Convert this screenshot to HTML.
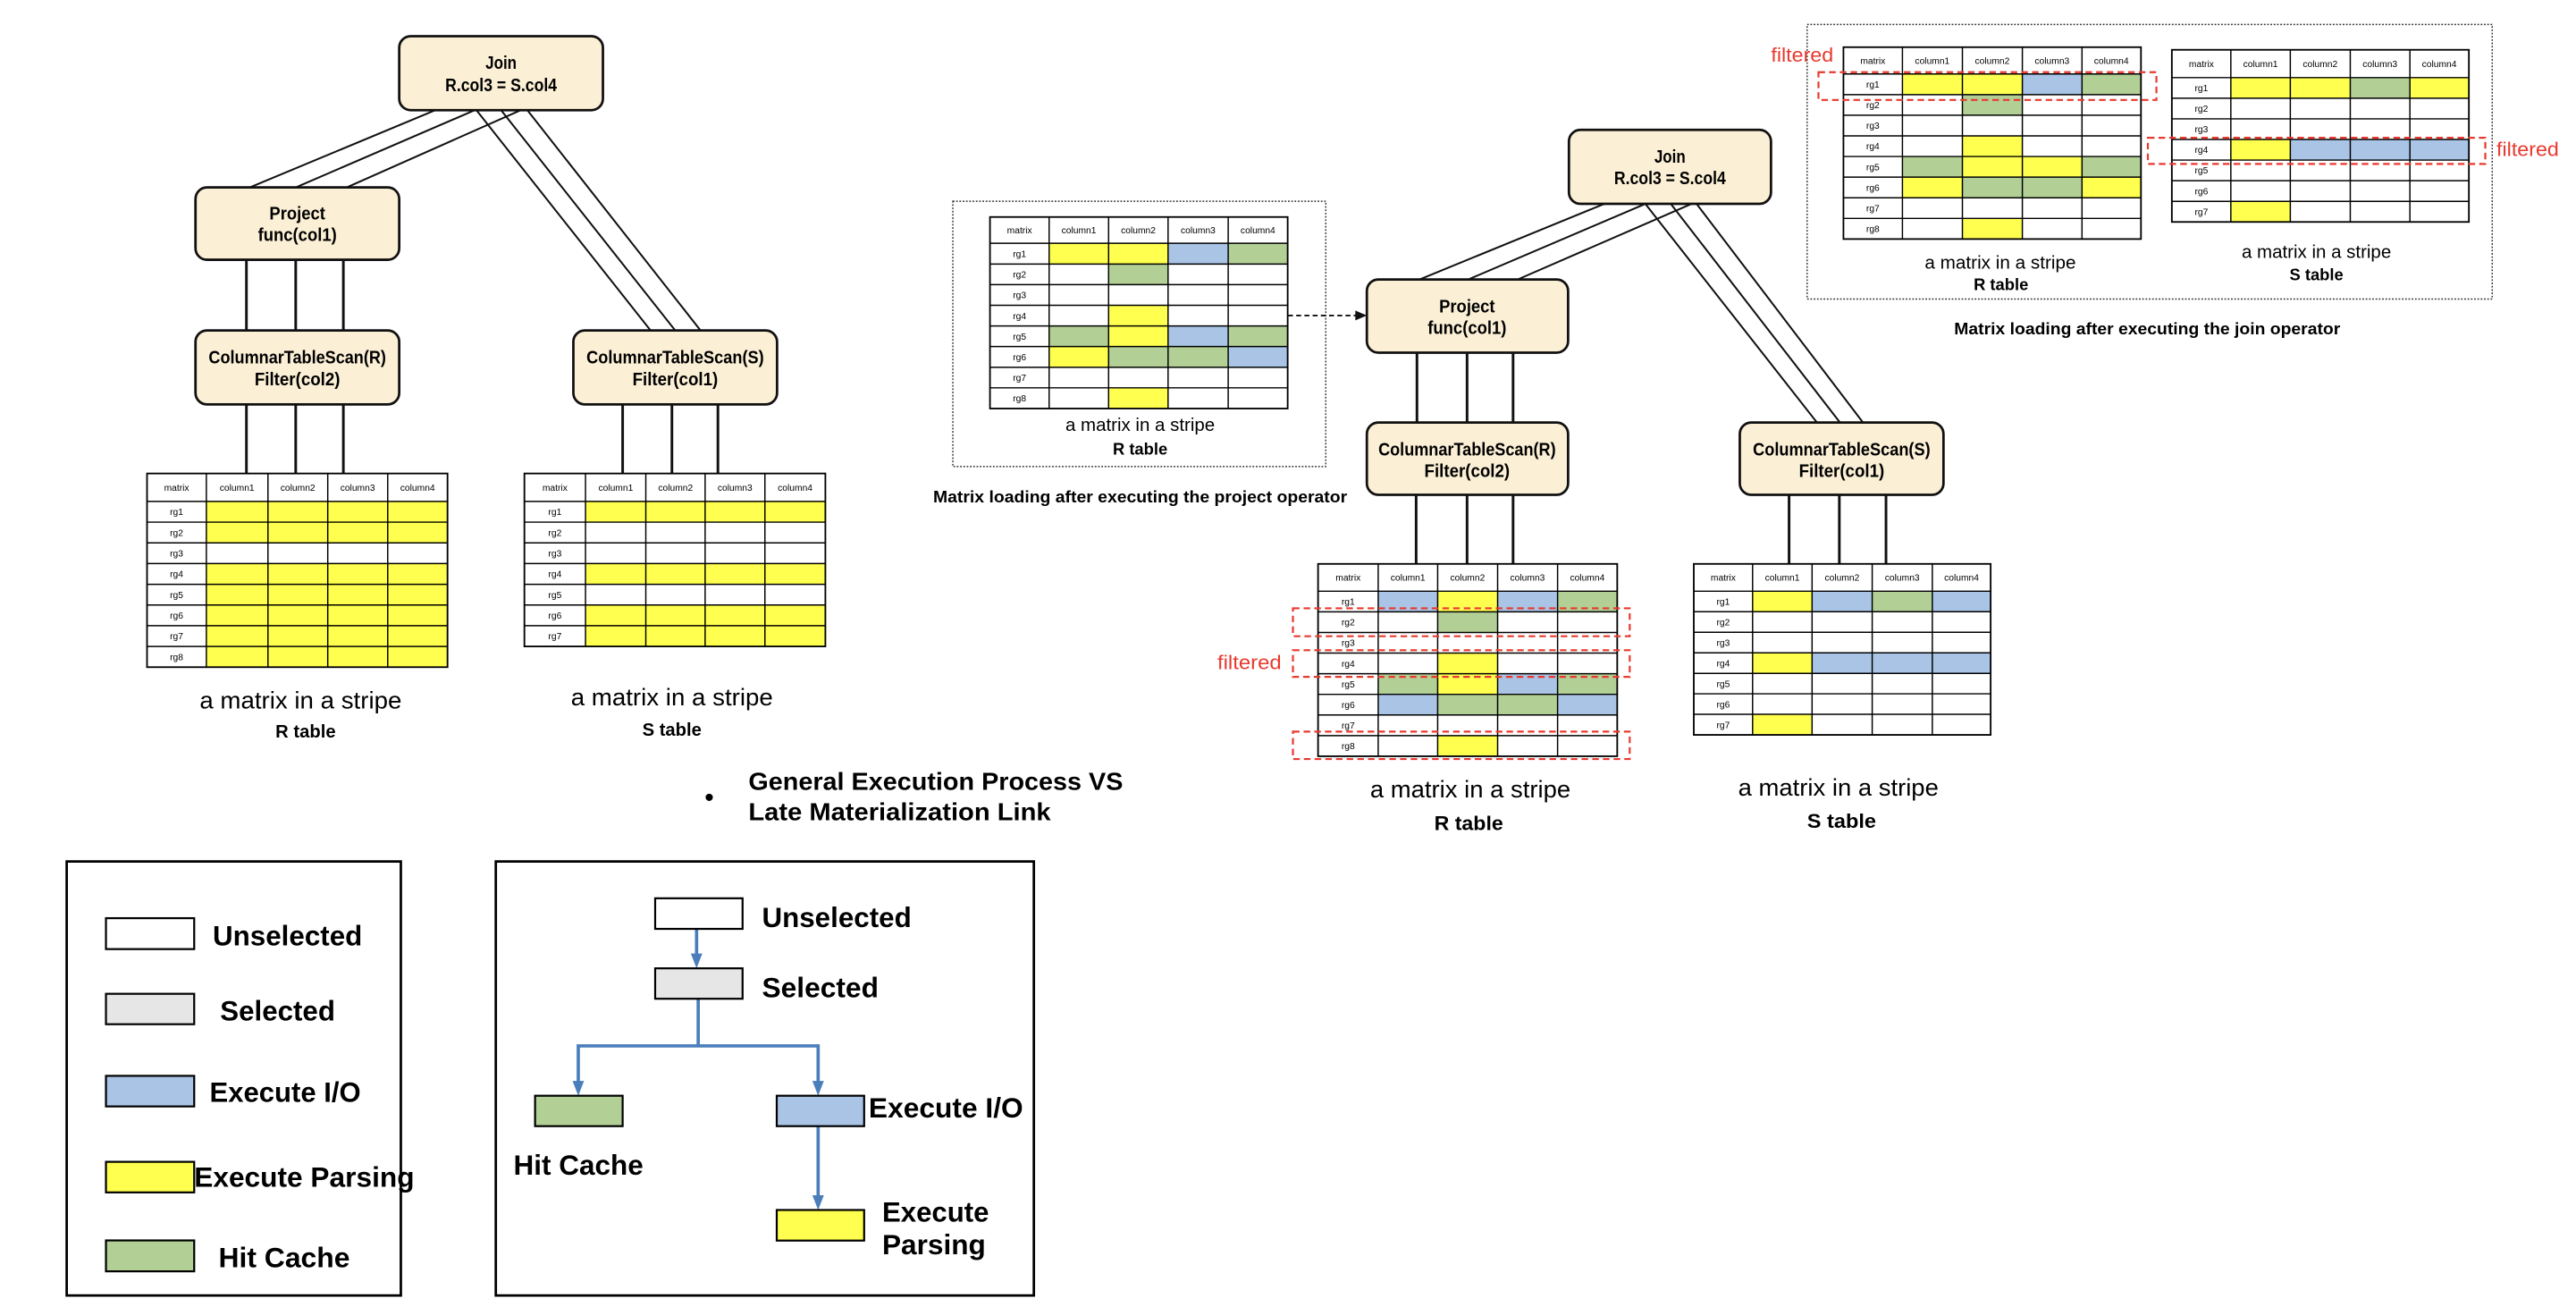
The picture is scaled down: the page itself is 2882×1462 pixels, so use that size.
<!DOCTYPE html>
<html><head><meta charset="utf-8"><style>
html,body{margin:0;padding:0;background:#fff}
svg{display:block}
text{font-family:"Liberation Sans",sans-serif}
.t{font-size:5.6px;text-anchor:middle;fill:#000}
.n{font-size:11px;font-weight:bold;text-anchor:middle}
.y{fill:#FFFF4F}.b{fill:#A9C4E5}.g{fill:#B2CF95}
.grid line{stroke:#000;stroke-width:0.8}
.nb{fill:#FBEFD5;stroke:#111;stroke-width:1.5}
.w{stroke:#111;stroke-width:1.1;fill:none}
.rd{fill:none;stroke:#E8392F;stroke-width:1.2;stroke-dasharray:4 2.5}
.red{fill:#E8392F;font-size:12px}
.cap{text-anchor:middle}
.lg{font-size:17px;font-weight:bold}
</style></head><body>
<svg width="2882" height="1462" viewBox="0 0 1568 795" preserveAspectRatio="none" xmlns="http://www.w3.org/2000/svg">
<rect width="1568" height="795" fill="#fff"/>

<!-- ===== LEFT TREE ===== -->
<g class="w">
<line x1="265" y1="67" x2="152" y2="114"/><line x1="289" y1="67" x2="180" y2="114"/><line x1="317" y1="67" x2="211" y2="114"/>
<line x1="290" y1="67" x2="396" y2="201"/><line x1="305" y1="67" x2="411" y2="201"/><line x1="321" y1="67" x2="428" y2="203"/>
</g>
<g stroke="#111" stroke-width="1.6">
<line x1="150" y1="158" x2="150" y2="201"/><line x1="180" y1="158" x2="180" y2="201"/><line x1="209" y1="158" x2="209" y2="201"/>
<line x1="150" y1="246" x2="150" y2="288"/><line x1="180" y1="246" x2="180" y2="288"/><line x1="209" y1="246" x2="209" y2="288"/>
<line x1="379" y1="246" x2="379" y2="288"/><line x1="409" y1="246" x2="409" y2="288"/><line x1="437" y1="246" x2="437" y2="288"/>
</g>
<rect class="nb" x="243" y="22" width="124" height="45" rx="7"/>
<text class="n" x="305" y="42" textLength="19" lengthAdjust="spacingAndGlyphs">Join</text>
<text class="n" x="305" y="55.5" textLength="68" lengthAdjust="spacingAndGlyphs">R.col3 = S.col4</text>
<rect class="nb" x="119" y="114" width="124" height="44" rx="7"/>
<text class="n" x="181" y="133.5" textLength="34" lengthAdjust="spacingAndGlyphs">Project</text>
<text class="n" x="181" y="146.5" textLength="48" lengthAdjust="spacingAndGlyphs">func(col1)</text>
<rect class="nb" x="119" y="201" width="124" height="45" rx="7"/>
<text class="n" x="181" y="221" textLength="108" lengthAdjust="spacingAndGlyphs">ColumnarTableScan(R)</text>
<text class="n" x="181" y="234.5" textLength="52" lengthAdjust="spacingAndGlyphs">Filter(col2)</text>
<rect class="nb" x="349" y="201" width="124" height="45" rx="7"/>
<text class="n" x="411" y="221" textLength="108" lengthAdjust="spacingAndGlyphs">ColumnarTableScan(S)</text>
<text class="n" x="411" y="234.5" textLength="52" lengthAdjust="spacingAndGlyphs">Filter(col1)</text>

<!-- Table A left R -->
<g>
<rect x="89.5" y="288" width="182.9" height="117.8" fill="#fff"/>
<rect class="y" x="125.6" y="305" width="146.8" height="25.2"/>
<rect class="y" x="125.6" y="342.8" width="146.8" height="63"/>
<g class="grid">
<rect x="89.5" y="288" width="182.9" height="117.8" fill="none" stroke="#000" stroke-width="1"/>
<line x1="125.6" y1="288" x2="125.6" y2="405.8"/><line x1="163.1" y1="288" x2="163.1" y2="405.8"/><line x1="199.5" y1="288" x2="199.5" y2="405.8"/><line x1="236" y1="288" x2="236" y2="405.8"/>
<line x1="89.5" y1="305" x2="272.4" y2="305"/><line x1="89.5" y1="317.6" x2="272.4" y2="317.6"/><line x1="89.5" y1="330.2" x2="272.4" y2="330.2"/><line x1="89.5" y1="342.8" x2="272.4" y2="342.8"/><line x1="89.5" y1="355.4" x2="272.4" y2="355.4"/><line x1="89.5" y1="368" x2="272.4" y2="368"/><line x1="89.5" y1="380.6" x2="272.4" y2="380.6"/><line x1="89.5" y1="393.2" x2="272.4" y2="393.2"/>
</g>
<text class="t" x="107.5" y="298.5">matrix</text><text class="t" x="144.3" y="298.5">column1</text><text class="t" x="181.3" y="298.5">column2</text><text class="t" x="217.7" y="298.5">column3</text><text class="t" x="254.2" y="298.5">column4</text>
<text class="t" x="107.5" y="313.3">rg1</text><text class="t" x="107.5" y="325.9">rg2</text><text class="t" x="107.5" y="338.5">rg3</text><text class="t" x="107.5" y="351.1">rg4</text><text class="t" x="107.5" y="363.7">rg5</text><text class="t" x="107.5" y="376.3">rg6</text><text class="t" x="107.5" y="388.9">rg7</text><text class="t" x="107.5" y="401.5">rg8</text>
</g>
<text class="cap" x="183" y="431" font-size="14.5" textLength="123" lengthAdjust="spacingAndGlyphs">a matrix in a stripe</text>
<text class="cap" x="186" y="448.5" font-size="11" font-weight="bold">R table</text>

<!-- Table B left S -->
<g>
<rect x="319.2" y="288" width="183.2" height="105.2" fill="#fff"/>
<rect class="y" x="356.4" y="305" width="146" height="12.6"/>
<rect class="y" x="356.4" y="342.8" width="146" height="12.6"/>
<rect class="y" x="356.4" y="368" width="146" height="25.2"/>
<g class="grid">
<rect x="319.2" y="288" width="183.2" height="105.2" fill="none" stroke="#000" stroke-width="1"/>
<line x1="356.4" y1="288" x2="356.4" y2="393.2"/><line x1="393.1" y1="288" x2="393.1" y2="393.2"/><line x1="429.2" y1="288" x2="429.2" y2="393.2"/><line x1="465.6" y1="288" x2="465.6" y2="393.2"/>
<line x1="319.2" y1="305" x2="502.4" y2="305"/><line x1="319.2" y1="317.6" x2="502.4" y2="317.6"/><line x1="319.2" y1="330.2" x2="502.4" y2="330.2"/><line x1="319.2" y1="342.8" x2="502.4" y2="342.8"/><line x1="319.2" y1="355.4" x2="502.4" y2="355.4"/><line x1="319.2" y1="368" x2="502.4" y2="368"/><line x1="319.2" y1="380.6" x2="502.4" y2="380.6"/>
</g>
<text class="t" x="337.8" y="298.5">matrix</text><text class="t" x="374.8" y="298.5">column1</text><text class="t" x="411.2" y="298.5">column2</text><text class="t" x="447.4" y="298.5">column3</text><text class="t" x="484" y="298.5">column4</text>
<text class="t" x="337.8" y="313.3">rg1</text><text class="t" x="337.8" y="325.9">rg2</text><text class="t" x="337.8" y="338.5">rg3</text><text class="t" x="337.8" y="351.1">rg4</text><text class="t" x="337.8" y="363.7">rg5</text><text class="t" x="337.8" y="376.3">rg6</text><text class="t" x="337.8" y="388.9">rg7</text>
</g>
<text class="cap" x="409" y="429" font-size="14.5" textLength="123" lengthAdjust="spacingAndGlyphs">a matrix in a stripe</text>
<text class="cap" x="409" y="447.5" font-size="11" font-weight="bold">S table</text>

<!-- ===== PROJECT MATRIX (dotted) ===== -->
<rect x="580" y="122.4" width="227" height="161.4" fill="none" stroke="#333" stroke-width="0.8" stroke-dasharray="1 1"/>
<g>
<rect x="602.6" y="132" width="181.2" height="116.5" fill="#fff"/>
<rect class="y" x="638.6" y="148" width="72.4" height="12.6"/><rect class="b" x="711" y="148" width="36.6" height="12.6"/><rect class="g" x="747.6" y="148" width="36.2" height="12.6"/>
<rect class="g" x="674.8" y="160.6" width="36.2" height="12.5"/>
<rect class="y" x="674.8" y="185.7" width="36.2" height="12.6"/>
<rect class="g" x="638.6" y="198.3" width="36.2" height="12.5"/><rect class="y" x="674.8" y="198.3" width="36.2" height="12.5"/><rect class="b" x="711" y="198.3" width="36.6" height="12.5"/><rect class="g" x="747.6" y="198.3" width="36.2" height="12.5"/>
<rect class="y" x="638.6" y="210.8" width="36.2" height="12.6"/><rect class="g" x="674.8" y="210.8" width="72.8" height="12.6"/><rect class="b" x="747.6" y="210.8" width="36.2" height="12.6"/>
<rect class="y" x="674.8" y="235.9" width="36.2" height="12.6"/>
<g class="grid">
<rect x="602.6" y="132" width="181.2" height="116.5" fill="none" stroke="#000" stroke-width="1"/>
<line x1="638.6" y1="132" x2="638.6" y2="248.5"/><line x1="674.8" y1="132" x2="674.8" y2="248.5"/><line x1="711" y1="132" x2="711" y2="248.5"/><line x1="747.6" y1="132" x2="747.6" y2="248.5"/>
<line x1="602.6" y1="148" x2="783.8" y2="148"/><line x1="602.6" y1="160.6" x2="783.8" y2="160.6"/><line x1="602.6" y1="173.1" x2="783.8" y2="173.1"/><line x1="602.6" y1="185.7" x2="783.8" y2="185.7"/><line x1="602.6" y1="198.3" x2="783.8" y2="198.3"/><line x1="602.6" y1="210.8" x2="783.8" y2="210.8"/><line x1="602.6" y1="223.4" x2="783.8" y2="223.4"/><line x1="602.6" y1="235.9" x2="783.8" y2="235.9"/>
</g>
<text class="t" x="620.6" y="142">matrix</text><text class="t" x="656.7" y="142">column1</text><text class="t" x="692.9" y="142">column2</text><text class="t" x="729.3" y="142">column3</text><text class="t" x="765.7" y="142">column4</text>
<text class="t" x="620.6" y="156.3">rg1</text><text class="t" x="620.6" y="168.9">rg2</text><text class="t" x="620.6" y="181.4">rg3</text><text class="t" x="620.6" y="194">rg4</text><text class="t" x="620.6" y="206.6">rg5</text><text class="t" x="620.6" y="219.1">rg6</text><text class="t" x="620.6" y="231.7">rg7</text><text class="t" x="620.6" y="244.2">rg8</text>
</g>
<text class="cap" x="694" y="262" font-size="11" textLength="91" lengthAdjust="spacingAndGlyphs">a matrix in a stripe</text>
<text class="cap" x="694" y="276.5" font-size="10" font-weight="bold">R table</text>
<text class="cap" x="694" y="305.5" font-size="10" font-weight="bold" textLength="252" lengthAdjust="spacingAndGlyphs">Matrix loading after executing the project operator</text>
<line x1="784" y1="191.9" x2="826" y2="191.9" stroke="#111" stroke-width="1" stroke-dasharray="3 2"/>
<polygon points="832,191.9 825,188.9 825,194.9" fill="#111"/>

<!-- ===== MIDDLE TREE ===== -->
<g class="w">
<line x1="976.5" y1="124" x2="864" y2="170"/><line x1="1001.5" y1="124" x2="893.7" y2="170"/><line x1="1029.6" y1="124" x2="923.8" y2="170"/>
<line x1="1001.5" y1="124" x2="1106" y2="257"/><line x1="1017" y1="124" x2="1120" y2="257"/><line x1="1032.7" y1="124" x2="1134" y2="257"/>
</g>
<g stroke="#111" stroke-width="1.6">
<line x1="862.5" y1="214" x2="862.5" y2="257"/><line x1="893" y1="214" x2="893" y2="257"/><line x1="921" y1="214" x2="921" y2="257"/>
<line x1="862" y1="301" x2="862" y2="343"/><line x1="893" y1="301" x2="893" y2="343"/><line x1="921" y1="301" x2="921" y2="343"/>
<line x1="1089" y1="301" x2="1089" y2="343"/><line x1="1119.6" y1="301" x2="1119.6" y2="343"/><line x1="1148" y1="301" x2="1148" y2="343"/>
</g>
<rect class="nb" x="955" y="79" width="123" height="45" rx="7"/>
<text class="n" x="1016.5" y="99" textLength="19" lengthAdjust="spacingAndGlyphs">Join</text>
<text class="n" x="1016.5" y="112" textLength="68" lengthAdjust="spacingAndGlyphs">R.col3 = S.col4</text>
<rect class="nb" x="832" y="170" width="122.5" height="44.5" rx="7"/>
<text class="n" x="893" y="190" textLength="34" lengthAdjust="spacingAndGlyphs">Project</text>
<text class="n" x="893" y="203" textLength="48" lengthAdjust="spacingAndGlyphs">func(col1)</text>
<rect class="nb" x="832" y="257" width="122.5" height="44" rx="7"/>
<text class="n" x="893" y="277" textLength="108" lengthAdjust="spacingAndGlyphs">ColumnarTableScan(R)</text>
<text class="n" x="893" y="290" textLength="52" lengthAdjust="spacingAndGlyphs">Filter(col2)</text>
<rect class="nb" x="1059" y="257" width="124" height="44" rx="7"/>
<text class="n" x="1121" y="277" textLength="108" lengthAdjust="spacingAndGlyphs">ColumnarTableScan(S)</text>
<text class="n" x="1121" y="290" textLength="52" lengthAdjust="spacingAndGlyphs">Filter(col1)</text>

<!-- Table D mid R -->
<g>
<rect x="802.3" y="343" width="182.1" height="117" fill="#fff"/>
<rect class="b" x="838.9" y="359.6" width="36.2" height="12.55"/><rect class="y" x="875.1" y="359.6" width="36.5" height="12.55"/><rect class="b" x="911.6" y="359.6" width="36.5" height="12.55"/><rect class="g" x="948.1" y="359.6" width="36.3" height="12.55"/>
<rect class="g" x="875.1" y="372.15" width="36.5" height="12.55"/>
<rect class="y" x="875.1" y="397.25" width="36.5" height="12.55"/>
<rect class="g" x="838.9" y="409.8" width="36.2" height="12.55"/><rect class="y" x="875.1" y="409.8" width="36.5" height="12.55"/><rect class="b" x="911.6" y="409.8" width="36.5" height="12.55"/><rect class="g" x="948.1" y="409.8" width="36.3" height="12.55"/>
<rect class="b" x="838.9" y="422.35" width="36.2" height="12.55"/><rect class="g" x="875.1" y="422.35" width="73" height="12.55"/><rect class="b" x="948.1" y="422.35" width="36.3" height="12.55"/>
<rect class="y" x="875.1" y="447.45" width="36.5" height="12.55"/>
<g class="grid">
<rect x="802.3" y="343" width="182.1" height="117" fill="none" stroke="#000" stroke-width="1"/>
<line x1="838.9" y1="343" x2="838.9" y2="460"/><line x1="875.1" y1="343" x2="875.1" y2="460"/><line x1="911.6" y1="343" x2="911.6" y2="460"/><line x1="948.1" y1="343" x2="948.1" y2="460"/>
<line x1="802.3" y1="359.6" x2="984.4" y2="359.6"/><line x1="802.3" y1="372.15" x2="984.4" y2="372.15"/><line x1="802.3" y1="384.7" x2="984.4" y2="384.7"/><line x1="802.3" y1="397.25" x2="984.4" y2="397.25"/><line x1="802.3" y1="409.8" x2="984.4" y2="409.8"/><line x1="802.3" y1="422.35" x2="984.4" y2="422.35"/><line x1="802.3" y1="434.9" x2="984.4" y2="434.9"/><line x1="802.3" y1="447.45" x2="984.4" y2="447.45"/>
</g>
<text class="t" x="820.6" y="353.3">matrix</text><text class="t" x="857" y="353.3">column1</text><text class="t" x="893.3" y="353.3">column2</text><text class="t" x="929.8" y="353.3">column3</text><text class="t" x="966.2" y="353.3">column4</text>
<text class="t" x="820.6" y="368">rg1</text><text class="t" x="820.6" y="380.5">rg2</text><text class="t" x="820.6" y="393">rg3</text><text class="t" x="820.6" y="405.6">rg4</text><text class="t" x="820.6" y="418.1">rg5</text><text class="t" x="820.6" y="430.7">rg6</text><text class="t" x="820.6" y="443.2">rg7</text><text class="t" x="820.6" y="455.8">rg8</text>
</g>
<rect class="rd" x="787" y="370" width="205" height="17"/>
<rect class="rd" x="787" y="395.5" width="205" height="16.2"/>
<rect class="rd" x="787" y="445" width="205" height="16.7"/>
<text class="red" x="741" y="407" textLength="39" lengthAdjust="spacingAndGlyphs">filtered</text>
<text class="cap" x="895" y="485" font-size="14.5" textLength="122" lengthAdjust="spacingAndGlyphs">a matrix in a stripe</text>
<text class="cap" x="894" y="505" font-size="12" font-weight="bold" textLength="42" lengthAdjust="spacingAndGlyphs">R table</text>

<!-- Table E mid S -->
<g>
<rect x="1031" y="343" width="180.7" height="104" fill="#fff"/>
<rect class="y" x="1066.8" y="359.6" width="36.2" height="12.5"/>
<rect class="b" x="1103" y="359.6" width="36.6" height="12.5"/><rect class="g" x="1139.6" y="359.6" width="36.6" height="12.5"/><rect class="b" x="1176.2" y="359.6" width="35.5" height="12.5"/>
<rect class="y" x="1066.8" y="397.1" width="36.2" height="12.5"/><rect class="b" x="1103" y="397.1" width="108.7" height="12.5"/>
<rect class="y" x="1066.8" y="434.5" width="36.2" height="12.5"/>
<g class="grid">
<rect x="1031" y="343" width="180.7" height="104" fill="none" stroke="#000" stroke-width="1"/>
<line x1="1066.8" y1="343" x2="1066.8" y2="447"/><line x1="1103" y1="343" x2="1103" y2="447"/><line x1="1139.6" y1="343" x2="1139.6" y2="447"/><line x1="1176.2" y1="343" x2="1176.2" y2="447"/>
<line x1="1031" y1="359.6" x2="1211.7" y2="359.6"/><line x1="1031" y1="372.1" x2="1211.7" y2="372.1"/><line x1="1031" y1="384.6" x2="1211.7" y2="384.6"/><line x1="1031" y1="397.1" x2="1211.7" y2="397.1"/><line x1="1031" y1="409.6" x2="1211.7" y2="409.6"/><line x1="1031" y1="422" x2="1211.7" y2="422"/><line x1="1031" y1="434.5" x2="1211.7" y2="434.5"/>
</g>
<text class="t" x="1048.9" y="353.3">matrix</text><text class="t" x="1084.9" y="353.3">column1</text><text class="t" x="1121.3" y="353.3">column2</text><text class="t" x="1157.9" y="353.3">column3</text><text class="t" x="1194" y="353.3">column4</text>
<text class="t" x="1048.9" y="368">rg1</text><text class="t" x="1048.9" y="380.5">rg2</text><text class="t" x="1048.9" y="393">rg3</text><text class="t" x="1048.9" y="405.5">rg4</text><text class="t" x="1048.9" y="418">rg5</text><text class="t" x="1048.9" y="430.4">rg6</text><text class="t" x="1048.9" y="442.9">rg7</text>
</g>
<text class="cap" x="1119" y="484" font-size="14.5" textLength="122" lengthAdjust="spacingAndGlyphs">a matrix in a stripe</text>
<text class="cap" x="1121" y="503.5" font-size="12" font-weight="bold" textLength="42" lengthAdjust="spacingAndGlyphs">S table</text>

<!-- ===== TOP RIGHT ===== -->
<rect x="1100" y="14.9" width="417" height="167" fill="none" stroke="#333" stroke-width="0.8" stroke-dasharray="1 1"/>
<g>
<rect x="1122.1" y="28.7" width="181.1" height="116.7" fill="#fff"/>
<rect class="y" x="1158" y="45" width="73" height="12.55"/><rect class="b" x="1231" y="45" width="36.3" height="12.55"/><rect class="g" x="1267.3" y="45" width="35.9" height="12.55"/>
<rect class="g" x="1194.5" y="57.55" width="36.5" height="12.55"/>
<rect class="y" x="1194.5" y="82.65" width="36.5" height="12.55"/>
<rect class="g" x="1158" y="95.2" width="36.5" height="12.55"/><rect class="y" x="1194.5" y="95.2" width="72.8" height="12.55"/><rect class="g" x="1267.3" y="95.2" width="35.9" height="12.55"/>
<rect class="y" x="1158" y="107.75" width="36.5" height="12.55"/><rect class="g" x="1194.5" y="107.75" width="72.8" height="12.55"/><rect class="y" x="1267.3" y="107.75" width="35.9" height="12.55"/>
<rect class="y" x="1194.5" y="132.85" width="36.5" height="12.55"/>
<g class="grid">
<rect x="1122.1" y="28.7" width="181.1" height="116.7" fill="none" stroke="#000" stroke-width="1"/>
<line x1="1158" y1="28.7" x2="1158" y2="145.4"/><line x1="1194.5" y1="28.7" x2="1194.5" y2="145.4"/><line x1="1231" y1="28.7" x2="1231" y2="145.4"/><line x1="1267.3" y1="28.7" x2="1267.3" y2="145.4"/>
<line x1="1122.1" y1="45" x2="1303.2" y2="45"/><line x1="1122.1" y1="57.55" x2="1303.2" y2="57.55"/><line x1="1122.1" y1="70.1" x2="1303.2" y2="70.1"/><line x1="1122.1" y1="82.65" x2="1303.2" y2="82.65"/><line x1="1122.1" y1="95.2" x2="1303.2" y2="95.2"/><line x1="1122.1" y1="107.75" x2="1303.2" y2="107.75"/><line x1="1122.1" y1="120.3" x2="1303.2" y2="120.3"/><line x1="1122.1" y1="132.85" x2="1303.2" y2="132.85"/>
</g>
<text class="t" x="1140" y="38.8">matrix</text><text class="t" x="1176.2" y="38.8">column1</text><text class="t" x="1212.7" y="38.8">column2</text><text class="t" x="1249.1" y="38.8">column3</text><text class="t" x="1285.2" y="38.8">column4</text>
<text class="t" x="1140" y="53.3">rg1</text><text class="t" x="1140" y="65.8">rg2</text><text class="t" x="1140" y="78.4">rg3</text><text class="t" x="1140" y="90.9">rg4</text><text class="t" x="1140" y="103.5">rg5</text><text class="t" x="1140" y="116">rg6</text><text class="t" x="1140" y="128.6">rg7</text><text class="t" x="1140" y="141.1">rg8</text>
</g>
<rect class="rd" x="1106.9" y="43.9" width="205.7" height="16.9"/>
<text class="red" x="1078" y="37.5" textLength="38" lengthAdjust="spacingAndGlyphs">filtered</text>
<text class="cap" x="1217.6" y="163.5" font-size="11" textLength="92" lengthAdjust="spacingAndGlyphs">a matrix in a stripe</text>
<text class="cap" x="1218" y="176.5" font-size="10" font-weight="bold">R table</text>

<g>
<rect x="1322" y="30.3" width="180.8" height="104.7" fill="#fff"/>
<rect class="y" x="1357.9" y="47.2" width="72.7" height="12.54"/><rect class="g" x="1430.6" y="47.2" width="36.3" height="12.54"/><rect class="y" x="1466.9" y="47.2" width="35.9" height="12.54"/>
<rect class="y" x="1357.9" y="84.83" width="36.2" height="12.54"/><rect class="b" x="1394.1" y="84.83" width="108.7" height="12.54"/>
<rect class="y" x="1357.9" y="122.46" width="36.2" height="12.54"/>
<g class="grid">
<rect x="1322" y="30.3" width="180.8" height="104.7" fill="none" stroke="#000" stroke-width="1"/>
<line x1="1357.9" y1="30.3" x2="1357.9" y2="135"/><line x1="1394.1" y1="30.3" x2="1394.1" y2="135"/><line x1="1430.6" y1="30.3" x2="1430.6" y2="135"/><line x1="1466.9" y1="30.3" x2="1466.9" y2="135"/>
<line x1="1322" y1="47.2" x2="1502.8" y2="47.2"/><line x1="1322" y1="59.74" x2="1502.8" y2="59.74"/><line x1="1322" y1="72.29" x2="1502.8" y2="72.29"/><line x1="1322" y1="84.83" x2="1502.8" y2="84.83"/><line x1="1322" y1="97.37" x2="1502.8" y2="97.37"/><line x1="1322" y1="109.9" x2="1502.8" y2="109.9"/><line x1="1322" y1="122.46" x2="1502.8" y2="122.46"/>
</g>
<text class="t" x="1340" y="40.7">matrix</text><text class="t" x="1376" y="40.7">column1</text><text class="t" x="1412.3" y="40.7">column2</text><text class="t" x="1448.7" y="40.7">column3</text><text class="t" x="1484.8" y="40.7">column4</text>
<text class="t" x="1340" y="55.5">rg1</text><text class="t" x="1340" y="68">rg2</text><text class="t" x="1340" y="80.6">rg3</text><text class="t" x="1340" y="93.1">rg4</text><text class="t" x="1340" y="105.6">rg5</text><text class="t" x="1340" y="118.2">rg6</text><text class="t" x="1340" y="130.7">rg7</text>
</g>
<rect class="rd" x="1307.4" y="83.8" width="205.4" height="15.9"/>
<text class="red" x="1519.6" y="94.8" textLength="38" lengthAdjust="spacingAndGlyphs">filtered</text>
<text class="cap" x="1410" y="157" font-size="11" textLength="91" lengthAdjust="spacingAndGlyphs">a matrix in a stripe</text>
<text class="cap" x="1410" y="170.5" font-size="10" font-weight="bold">S table</text>
<text class="cap" x="1307" y="203.5" font-size="10" font-weight="bold" textLength="235" lengthAdjust="spacingAndGlyphs">Matrix loading after executing the join operator</text>

<!-- ===== BULLET TEXT ===== -->
<circle cx="431.7" cy="485" r="2.2" fill="#000"/>
<text x="455.6" y="480.5" font-size="15" font-weight="bold" textLength="228" lengthAdjust="spacingAndGlyphs">General Execution Process VS</text>
<text x="455.6" y="499" font-size="15" font-weight="bold" textLength="184" lengthAdjust="spacingAndGlyphs">Late Materialization Link</text>

<!-- ===== LEGEND 1 ===== -->
<rect x="40.6" y="524" width="203.4" height="264" fill="none" stroke="#000" stroke-width="1.5"/>
<g stroke="#000" stroke-width="1.2">
<rect x="64.5" y="558.5" width="53.7" height="18.8" fill="#fff"/>
<rect x="64.5" y="604.5" width="53.7" height="18.5" fill="#E6E6E6"/>
<rect x="64.5" y="654.4" width="53.7" height="18.6" class="b"/>
<rect x="64.5" y="706.7" width="53.7" height="18.6" class="y"/>
<rect x="64.5" y="754.5" width="53.7" height="18.8" class="g"/>
</g>
<text class="lg" x="129.5" y="575" textLength="91" lengthAdjust="spacingAndGlyphs">Unselected</text>
<text class="lg" x="134" y="620.6" textLength="70" lengthAdjust="spacingAndGlyphs">Selected</text>
<text class="lg" x="127.6" y="670.3" textLength="92" lengthAdjust="spacingAndGlyphs">Execute I/O</text>
<text class="lg" x="118.2" y="722" textLength="134" lengthAdjust="spacingAndGlyphs">Execute Parsing</text>
<text class="lg" x="133" y="770.7" textLength="80" lengthAdjust="spacingAndGlyphs">Hit Cache</text>

<!-- ===== LEGEND 2 ===== -->
<rect x="301.8" y="524" width="327.5" height="264" fill="none" stroke="#000" stroke-width="1.5"/>
<g stroke="#4A7EBB" stroke-width="2" fill="none">
<line x1="424" y1="565" x2="424" y2="583"/>
<polyline points="425,607.5 425,636.2"/>
<polyline points="352,660 352,636.2 498,636.2 498,660"/>
<line x1="498" y1="685" x2="498" y2="730"/>
</g>
<g fill="#4A7EBB">
<polygon points="424,589 420.5,580 427.5,580"/>
<polygon points="352,666.5 348.5,657.5 355.5,657.5"/>
<polygon points="498,666.5 494.5,657.5 501.5,657.5"/>
<polygon points="498,736 494.5,727 501.5,727"/>
</g>
<g stroke="#000" stroke-width="1.2">
<rect x="398.8" y="546.4" width="53.2" height="18.6" fill="#fff"/>
<rect x="398.8" y="589" width="53.2" height="18.5" fill="#E6E6E6"/>
<rect x="325.7" y="666.5" width="53.3" height="18.5" class="g"/>
<rect x="472.8" y="666.5" width="53.2" height="18.5" class="b"/>
<rect x="472.8" y="736" width="53.2" height="18.6" class="y"/>
</g>
<text class="lg" x="463.8" y="563.8" textLength="91" lengthAdjust="spacingAndGlyphs">Unselected</text>
<text class="lg" x="463.8" y="606.7" textLength="71" lengthAdjust="spacingAndGlyphs">Selected</text>
<text class="lg" x="528.8" y="679.6" textLength="94" lengthAdjust="spacingAndGlyphs">Execute I/O</text>
<text class="lg" x="312.6" y="714.5" textLength="79" lengthAdjust="spacingAndGlyphs">Hit Cache</text>
<text class="lg" x="537" y="743" textLength="65" lengthAdjust="spacingAndGlyphs">Execute</text>
<text class="lg" x="537" y="763" textLength="63" lengthAdjust="spacingAndGlyphs">Parsing</text>
</svg>
</body></html>
